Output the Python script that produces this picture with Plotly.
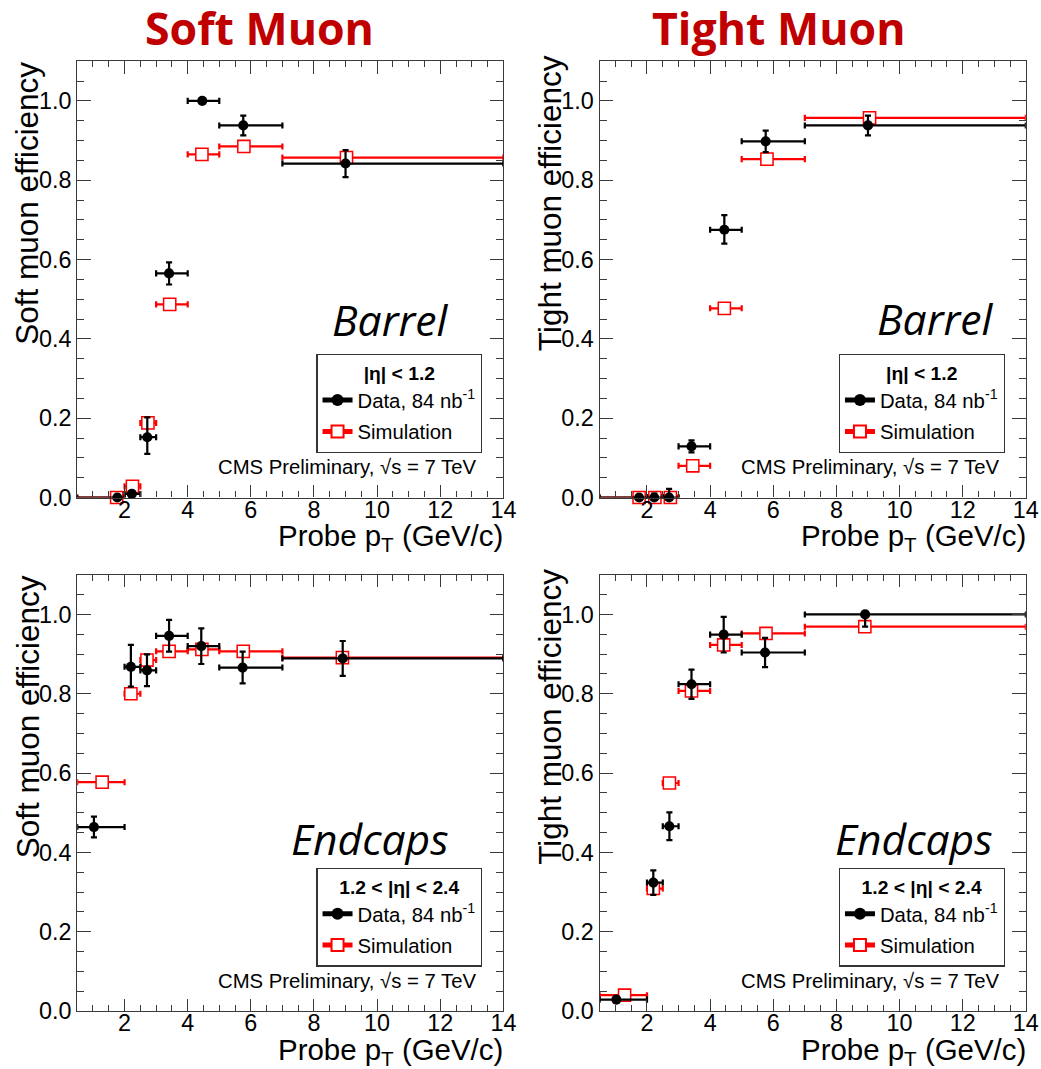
import plotly.graph_objects as go

# ---------------- data ----------------
# bin edges in probe pT (GeV/c)
bin_lo = [0.5, 2.0, 2.5, 3.0, 4.0, 5.0, 7.0]
bin_hi = [2.0, 2.5, 3.0, 4.0, 5.0, 7.0, 14.0]

# Soft muon, barrel
soft_bar_data_x = [1.77, 2.23, 2.72, 3.41, 4.46, 5.76, 9.00]
soft_bar_data_y = [0.000, 0.009, 0.152, 0.565, 1.000, 0.938, 0.842]
soft_bar_data_eup = [0.000, 0.008, 0.050, 0.028, 0.004, 0.025, 0.034]
soft_bar_data_edn = [0.000, 0.008, 0.042, 0.028, 0.004, 0.025, 0.034]
soft_bar_sim_x = [1.75, 2.25, 2.74, 3.43, 4.45, 5.78, 9.03]
soft_bar_sim_y = [0.000, 0.028, 0.188, 0.487, 0.865, 0.885, 0.857]

# Tight muon, barrel
tight_bar_data_x = [1.75, 2.23, 2.70, 3.41, 4.45, 5.76, 9.00]
tight_bar_data_y = [0.000, 0.000, 0.000, 0.129, 0.675, 0.898, 0.938]
tight_bar_data_eup = [0.000, 0.010, 0.022, 0.015, 0.037, 0.027, 0.025]
tight_bar_data_edn = [0.000, 0.000, 0.000, 0.015, 0.035, 0.027, 0.025]
tight_bar_sim_x = [1.75, 2.25, 2.74, 3.45, 4.45, 5.80, 9.05]
tight_bar_sim_y = [0.000, 0.000, 0.000, 0.080, 0.477, 0.853, 0.957]

# Soft muon, endcaps
soft_end_data_x = [1.03, 2.20, 2.71, 3.41, 4.43, 5.74, 8.91]
soft_end_data_y = [0.464, 0.868, 0.859, 0.946, 0.920, 0.866, 0.889]
soft_end_data_eup = [0.026, 0.055, 0.040, 0.040, 0.045, 0.040, 0.044]
soft_end_data_edn = [0.026, 0.050, 0.040, 0.040, 0.045, 0.040, 0.044]
soft_end_sim_x = [1.29, 2.20, 2.71, 3.41, 4.45, 5.76, 8.90]
soft_end_sim_y = [0.577, 0.800, 0.885, 0.907, 0.912, 0.907, 0.891]

# Tight muon, endcaps
tight_end_data_x = [1.03, 2.20, 2.71, 3.41, 4.43, 5.74, 8.91]
tight_end_data_y = [0.029, 0.324, 0.466, 0.824, 0.949, 0.904, 1.000]
tight_end_data_eup = [0.008, 0.031, 0.035, 0.037, 0.045, 0.037, 0.000]
tight_end_data_edn = [0.008, 0.031, 0.035, 0.037, 0.045, 0.037, 0.031]
tight_end_sim_x = [1.29, 2.20, 2.71, 3.41, 4.43, 5.77, 8.90]
tight_end_sim_y = [0.040, 0.309, 0.575, 0.807, 0.923, 0.952, 0.969]

x_tick_vals = [2, 4, 6, 8, 10, 12, 14]
y_tick_vals = [0.0, 0.2, 0.4, 0.6, 0.8, 1.0]

panels = [
    dict(data_x=soft_bar_data_x, data_y=soft_bar_data_y, eup=soft_bar_data_eup, edn=soft_bar_data_edn,
         sim_x=soft_bar_sim_x, sim_y=soft_bar_sim_y, ytitle="Soft muon efficiency",
         region="Barrel", eta="|η| &lt; 1.2"),
    dict(data_x=tight_bar_data_x, data_y=tight_bar_data_y, eup=tight_bar_data_eup, edn=tight_bar_data_edn,
         sim_x=tight_bar_sim_x, sim_y=tight_bar_sim_y, ytitle="Tight muon efficiency",
         region="Barrel", eta="|η| &lt; 1.2"),
    dict(data_x=soft_end_data_x, data_y=soft_end_data_y, eup=soft_end_data_eup, edn=soft_end_data_edn,
         sim_x=soft_end_sim_x, sim_y=soft_end_sim_y, ytitle="Soft muon efficiency",
         region="Endcaps", eta="1.2 &lt; |η| &lt; 2.4"),
    dict(data_x=tight_end_data_x, data_y=tight_end_data_y, eup=tight_end_data_eup, edn=tight_end_data_edn,
         sim_x=tight_end_sim_x, sim_y=tight_end_sim_y, ytitle="Tight muon efficiency",
         region="Endcaps", eta="1.2 &lt; |η| &lt; 2.4"),
]

# region label right edges / vertical centres, per panel (target pixels)
region_right = [450, 993, 450, 992]
region_mid = [318, 317, 835, 835]

# ---------------- layout geometry ----------------
# Positions are written in target pixels of a 1041x1069 picture; the figure
# itself is drawn 1/ZOOM larger, so every size is multiplied by K.
TW, TH = 1041, 1069
ZOOM = 0.985
K = 1 / ZOOM
W, H = round(TW * K), round(TH * K)
col_px = [(77, 502), (598, 1023)]
row_px = [(61, 496), (573, 1008)]   # top, bottom of plotting frame


def px_x(p):
    return p * K / W


def px_y(p):
    return 1 - p * K / H


def s(v):
    return v * K


RED = "#FF0000"
FRAME = "#3a3a3a"
SANS = "Liberation Sans, Arial, sans-serif"
CAL = "Open Sans, sans-serif"

fig = go.Figure()
layout = dict(width=W, height=H, margin=dict(l=0, r=0, t=0, b=0),
              paper_bgcolor="white", plot_bgcolor="white", showlegend=True)
annotations = []

for i, p in enumerate(panels):
    n = i + 1
    c, r = i % 2, i // 2
    xa = "x" if n == 1 else f"x{n}"
    ya = "y" if n == 1 else f"y{n}"
    lg = "legend" if n == 1 else f"legend{n}"

    xlo_err = [x - lo for x, lo in zip(p["sim_x"], bin_lo)]
    xhi_err = [hi - x for x, hi in zip(p["sim_x"], bin_hi)]
    fig.add_trace(go.Scatter(
        x=p["sim_x"], y=p["sim_y"], mode="markers", xaxis=xa, yaxis=ya,
        showlegend=False, cliponaxis=False,
        marker=dict(symbol="square", size=s(12), color="white", line=dict(color=RED, width=s(1.5))),
        error_x=dict(type="data", symmetric=False, array=xhi_err, arrayminus=xlo_err,
                     color=RED, thickness=s(2.2), width=s(3)),
    ))

    dxlo = [x - lo for x, lo in zip(p["data_x"], bin_lo)]
    dxhi = [hi - x for x, hi in zip(p["data_x"], bin_hi)]
    fig.add_trace(go.Scatter(
        x=p["data_x"], y=p["data_y"], mode="markers", xaxis=xa, yaxis=ya,
        showlegend=False, cliponaxis=False,
        marker=dict(symbol="circle", size=s(10), color="black"),
        error_x=dict(type="data", symmetric=False, array=dxhi, arrayminus=dxlo,
                     color="black", thickness=s(2.2), width=s(3)),
        error_y=dict(type="data", symmetric=False, array=p["eup"], arrayminus=p["edn"],
                     color="black", thickness=s(2.2), width=s(3)),
    ))

    # legend entries
    fig.add_trace(go.Scatter(
        x=[None], y=[None], mode="lines+markers", xaxis=xa, yaxis=ya, legend=lg,
        name="Data, 84 nb<sup>-1</sup>", legendgroup=f"d{n}",
        line=dict(color="black", width=s(2)), marker=dict(symbol="circle", size=s(9), color="black"),
    ))
    fig.add_trace(go.Scatter(
        x=[None], y=[None], mode="lines+markers", xaxis=xa, yaxis=ya, legend=lg,
        name="Simulation", legendgroup=f"s{n}",
        line=dict(color=RED, width=s(2)),
        marker=dict(symbol="square", size=s(12), color="white", line=dict(color=RED, width=s(1.5))),
    ))

    x0, x1 = col_px[c]
    y0, y1 = row_px[r]
    axis_common = dict(showline=True, linecolor=FRAME, linewidth=s(1.3), mirror="allticks",
                       ticks="inside", tickcolor=FRAME, showgrid=False, zeroline=False,
                       tickfont=dict(family=SANS, size=s(23), color="black"))
    layout["xaxis" if n == 1 else f"xaxis{n}"] = dict(
        axis_common, domain=[px_x(x0), px_x(x1)], range=[0.5, 14], anchor=ya,
        tickvals=x_tick_vals, ticklen=s(12), tickwidth=s(1.2), ticklabelstandoff=-9,
        minor=dict(ticks="inside", dtick=0.5, tick0=0, ticklen=s(6), tickcolor=FRAME, tickwidth=s(1.2)),
    )
    layout["yaxis" if n == 1 else f"yaxis{n}"] = dict(
        axis_common, domain=[px_y(y1), px_y(y0)], range=[0, 1.1], anchor=xa,
        tickvals=y_tick_vals, tickformat=".1f", ticklen=s(13), tickwidth=s(1.2),
        minor=dict(ticks="inside", dtick=0.05, tick0=0, ticklen=s(7), tickcolor=FRAME, tickwidth=s(1.2)),
    )

    # legend box
    layout[lg] = dict(
        x=px_x(x0 + 404), y=px_y(y0 + 292), xanchor="right", yanchor="top",
        bgcolor="white", bordercolor="#333333", borderwidth=s(1.2),
        font=dict(family=SANS, size=s(20), color="black"),
        title=dict(text=f"<b>{p['eta']}</b>", side="top center",
                   font=dict(family=SANS, size=s(19), color="black")),
        itemsizing="constant", tracegroupgap=s(2),
    )

    # axis titles
    annotations.append(dict(
        text=p["ytitle"], xref="paper", yref="paper", textangle=-90,
        x=px_x(x0 - 49), y=px_y(y0 + 142), xanchor="center", yanchor="middle",
        showarrow=False, font=dict(family=SANS, size=s(31), color="black")))
    annotations.append(dict(
        text="Probe p<sub>T</sub> (GeV/c)", xref="paper", yref="paper",
        x=px_x(x1 + 2), y=px_y(y1 + 40), xanchor="right", yanchor="middle",
        showarrow=False, font=dict(family=SANS, size=s(29), color="black")))

    # region label and CMS label
    annotations.append(dict(
        text=f"<i>{p['region']}</i>", xref="paper", yref="paper",
        x=px_x(region_right[i]), y=px_y(region_mid[i]),
        xanchor="right", yanchor="middle",
        showarrow=False, font=dict(family=CAL, size=s(42), color="black")))
    annotations.append(dict(
        text="CMS Preliminary, √s = 7 TeV", xref="paper", yref="paper",
        x=px_x(x1 - 25), y=px_y(y0 + 405), xanchor="right", yanchor="middle",
        showarrow=False, font=dict(family=SANS, size=s(20), color="black")))

# column titles
for text, cx in [("Soft Muon", 259), ("Tight Muon", 777)]:
    annotations.append(dict(
        text=f"<b>{text}</b>", xref="paper", yref="paper", x=px_x(cx), y=px_y(27),
        xanchor="center", yanchor="middle", showarrow=False,
        font=dict(family=CAL, size=s(44), color="#C00000")))

layout["annotations"] = annotations
fig.update_layout(**layout)
fig.write_html("out.html")
